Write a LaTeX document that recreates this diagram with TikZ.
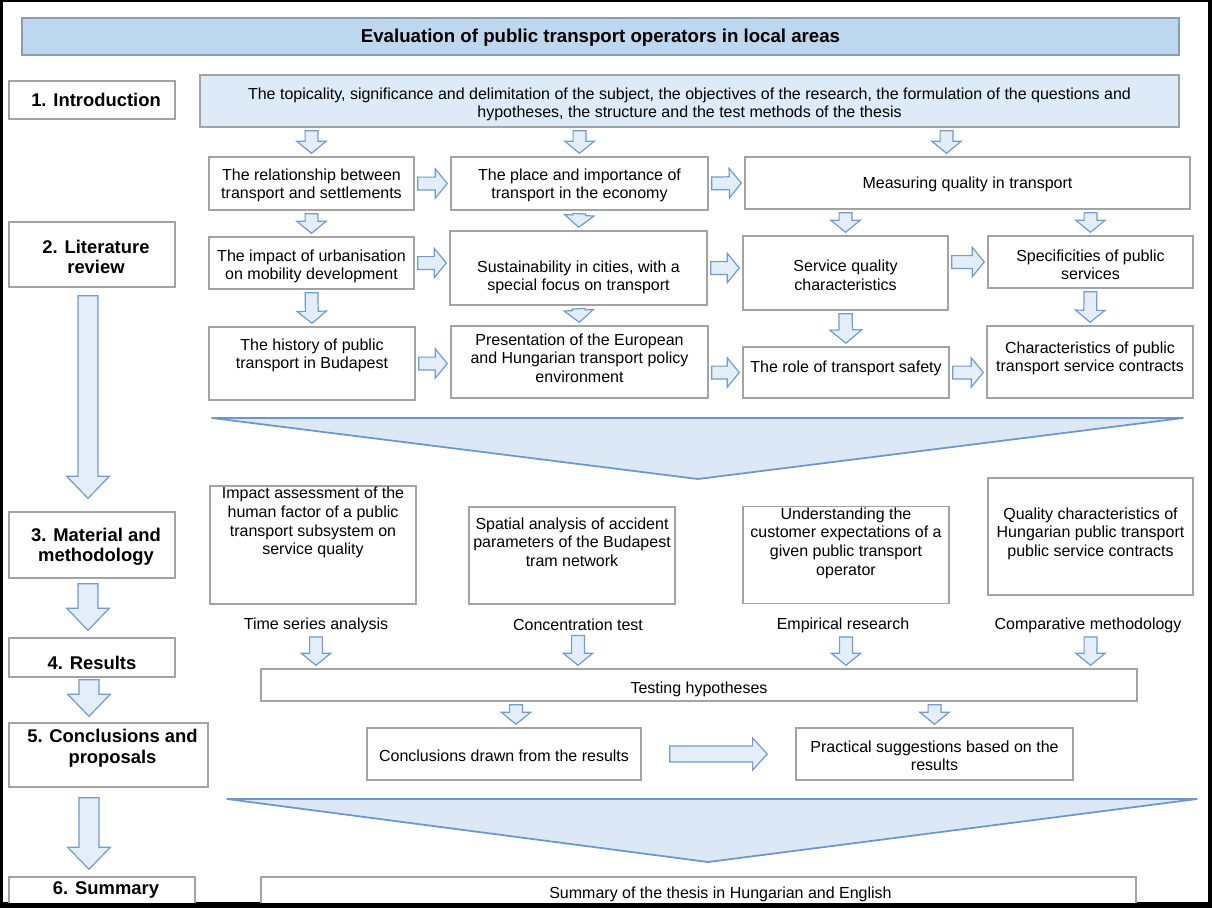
\documentclass[tikz,border=0pt]{standalone}
\usepackage{fontspec}
\setmainfont{Liberation Sans}
\usepackage{tikz}
\usetikzlibrary{positioning,calc}
\definecolor{boxgray}{HTML}{A3A3A3}
\definecolor{titleblue}{HTML}{BDD7EE}
\definecolor{titleline}{HTML}{8E9BAC}
\definecolor{introblue}{HTML}{DDEAF7}
\definecolor{arrline}{HTML}{6F9CD0}
\definecolor{arrfill}{HTML}{E4EEF9}
\definecolor{funline}{HTML}{6A97CE}
\definecolor{funfill}{HTML}{DCE8F5}
\newcommand{\btext}[1]{\begin{tabular}{@{}c@{}}#1\end{tabular}}
\newcommand{\ltext}[1]{\begin{tabular}{@{\hspace{6pt}}c@{}}#1\end{tabular}}
\tikzstyle{fbox}   = [rectangle, draw=boxgray, line width=1.2pt, fill=white,
                      inner sep=0pt, font=\fontsize{12}{13.9}\selectfont]
\tikzstyle{lbox}   = [fbox, font=\fontsize{13.8}{15.5}\selectfont\bfseries]
\tikzstyle{mtext}  = [inner sep=1pt, font=\fontsize{12}{13.9}\selectfont]
\tikzstyle{funnel} = [draw=funline, fill=funfill, line width=1.3pt, line join=round]
\tikzset{
  spanbox/.style n args={4}{at={({(#1+#3)/2},{(#2+#4)/2})},
    minimum width={(#3-#1)*0.75pt}, minimum height={(#4-#2)*0.75pt}},
  blockarr/.style n args={3}{draw=arrline, fill=arrfill, line width=0.9pt,
    to path={
      ($(\tikztostart)!2.2pt!(\tikztotarget)$) coordinate (bs)
      ($(\tikztotarget)!2.2pt!(\tikztostart)$) coordinate (bt)
      ($(bt)!#3!(bs)$) coordinate (bh)
      ($(bs)!#1!90:(bt)$) -- ($(bh)!#1!90:(bt)$) -- ($(bh)!#2!90:(bt)$) -- (bt)
      -- ($(bh)!#2!-90:(bt)$) -- ($(bh)!#1!-90:(bt)$) -- ($(bs)!#1!-90:(bt)$)
      -- cycle}},
  sarrow/.style={blockarr={4.8pt}{11pt}{9pt}},
  marrow/.style={blockarr={5pt}{12pt}{10pt}},
  harrow/.style={blockarr={6pt}{12pt}{11pt}},
  larrow/.style={blockarr={7.5pt}{16pt}{16.5pt}}
}

\begin{document}
\begin{tikzpicture}[x=0.75pt, y=-0.75pt]
\useasboundingbox (0,0) rectangle (1212,908);
\fill[black] (0,0) rectangle (1212,908);
\fill[white] (3,2) rectangle (1208,902);
\begin{scope}
\clip (3,2) rectangle (1208,902);
% Title and introduction
\node[fbox, draw=titleline, fill=titleblue, font=\fontsize{14}{16}\selectfont\bfseries,
  spanbox={22}{18}{1179}{55}] (title)
  {\btext{\rule{0pt}{14.2pt}Evaluation of public transport operators in local areas}};
\node[lbox, spanbox={9}{81}{175}{119}] (lab1) {\ltext{\rule{0pt}{13.85pt}1. Introduction}};
\node[fbox, fill=introblue, spanbox={200}{75}{1179}{127}] (intro)
  {\btext{\rule{0pt}{15.7pt}The topicality, significance and delimitation of the subject, the objectives of the research, the formulation of the questions and\\
   hypotheses, the structure and the test methods of the thesis}};
% Literature review
\node[lbox, spanbox={9}{222}{175}{287}] (lab2) {\ltext{\rule{0pt}{18.3pt}2. Literature\\review}};
\node[fbox, spanbox={209}{157}{414}{210}] (rel)
  {\btext{\rule{0pt}{13.5pt}The relationship between\\transport and settlements}};
\node[fbox, spanbox={451}{157}{708}{210}] (place)
  {\btext{\rule{0pt}{13.5pt}The place and importance of\\transport in the economy}};
\node[fbox, spanbox={745}{157}{1190}{209}] (meas) {\btext{\rule{0pt}{12.7pt}Measuring quality in transport}};
\node[fbox, spanbox={209}{237}{414}{289}] (urb)
  {\btext{\rule{0pt}{15.7pt}The impact of urbanisation\\on mobility development}};
\node[fbox, spanbox={450}{231}{707}{305}] (sust)
  {\btext{\rule{0pt}{24.5pt}Sustainability in cities, with a\\special focus on transport}};
\node[fbox, spanbox={743}{236}{948}{310}] (serv) {\btext{\rule{0pt}{16.5pt}Service quality\\characteristics}};
\node[fbox, spanbox={988}{236}{1193}{288}] (spec) {\btext{\rule{0pt}{17pt}Specificities of public\\services}};
\node[fbox, spanbox={209}{327}{415}{400}] (hist)
  {\btext{The history of public\\transport in Budapest\\[11.25pt]}};
\node[fbox, spanbox={451}{326}{708}{398}] (pres)
  {\btext{Presentation of the European\\and Hungarian transport policy\\environment\\[3pt]}};
\node[fbox, spanbox={743}{347}{949}{398}] (safety) {\btext{The role of transport safety\\[5.25pt]}};
\node[fbox, spanbox={987}{326}{1193}{398}] (char)
  {\btext{Characteristics of public\\transport service contracts\\[4.5pt]}};
\coordinate (mq) at ($(meas.north)+(-21,0)$);
\draw[sarrow] (intro.south -| rel.north) to (rel.north);
\draw[sarrow] (intro.south -| place.north) to (place.north);
\draw[sarrow] (intro.south -| mq) to (mq);
\draw[sarrow] (rel.east) to (place.west);
\draw[sarrow] (place.east) to (meas.west);
\draw[sarrow] (rel.south) to (urb.north);
\draw[sarrow] (place.south) to (sust.north);
\draw[sarrow] (meas.south -| serv.north) to (serv.north);
\draw[sarrow] (meas.south -| spec.north) to (spec.north);
\draw[sarrow] (urb.east) to (urb.east -| sust.west);
\draw[sarrow] (sust.east) to (sust.east -| serv.west);
\draw[sarrow] (spec.west -| serv.east) to (spec.west);
\draw[sarrow] (urb.south) to (hist.north);
\draw[sarrow] (sust.south) to (pres.north);
\draw[marrow] (serv.south) to (safety.north);
\draw[sarrow] (spec.south) to (char.north);
\draw[sarrow] (hist.east) to (hist.east -| pres.west);
\draw[sarrow] (safety.west -| pres.east) to (safety.west);
\draw[sarrow] (safety.east) to (safety.east -| char.west);
\draw[funnel] (212,418) -- (1183,418) -- (698,479) -- cycle;
% Material and methodology
\node[lbox, spanbox={9}{512}{175}{578}] (lab3) {\ltext{\rule{0pt}{14.6pt}3. Material and\\methodology}};
\node[fbox, spanbox={210}{486}{416}{604}] (imp)
  {\btext{Impact assessment of the\\human factor of a public\\transport subsystem on\\service quality\\[32.9pt]}};
\node[fbox, spanbox={469}{507}{675}{604}] (spat)
  {\btext{Spatial analysis of accident\\parameters of the Budapest\\tram network\\[17.25pt]}};
\node[fbox, spanbox={743}{507}{949}{603}] (und)
  {\btext{Understanding the\\customer expectations of a\\given public transport\\operator\\[17.25pt]}};
\node[fbox, spanbox={988}{478}{1193}{595}] (qual)
  {\btext{Quality characteristics of\\Hungarian public transport\\public service contracts\\[4pt]}};
\node[mtext] (tsa) at (316,625) {Time series analysis};
\node[mtext] (ctest) at (578,625) {Concentration test};
\node[mtext] (emp) at (843,625) {Empirical research};
\node[mtext] (comp) at (1088,625) {Comparative methodology};
% Results, conclusions, summary
\node[lbox, spanbox={9}{638}{175}{677}] (lab4) {\btext{\rule{0pt}{22.1pt}4. Results}};
\node[fbox, spanbox={261}{669}{1137}{701}] (testing) {\btext{\rule{0pt}{17.2pt}Testing hypotheses}};
\node[lbox, spanbox={9}{723}{208}{787}] (lab5) {\ltext{5. Conclusions and\\proposals\\[9pt]}};
\node[fbox, spanbox={367}{728}{641}{780}] (concl)
  {\btext{\rule{0pt}{15.7pt}Conclusions drawn from the results}};
\node[fbox, spanbox={796}{728}{1073}{780}] (prac)
  {\btext{\rule{0pt}{15.7pt}Practical suggestions based on the\\results}};
\node[lbox, spanbox={9}{877}{195}{912}] (lab6) {\ltext{6. Summary\\[6.75pt]}};
\node[fbox, spanbox={261}{877}{1136}{912}] (summ)
  {\btext{\hspace*{33pt}Summary of the thesis in Hungarian and English}};
\coordinate (cq) at ($(concl.north)+(12,0)$);
\draw[sarrow] (tsa.south) to (tsa.south |- testing.north);
\draw[sarrow] (ctest.south) to (ctest.south |- testing.north);
\draw[sarrow] (emp.south -| und.south) to (testing.north -| und.south);
\draw[sarrow] (comp.south -| qual.south) to (testing.north -| qual.south);
\draw[sarrow] (testing.south -| cq) to (cq);
\draw[sarrow] (testing.south -| prac.north) to (prac.north);
\draw[harrow] ($(concl.east)+(25,0)$) to ($(prac.west)+(-25,0)$);
\draw[funnel] (227,799) -- (1197,799) -- (708,862) -- cycle;
% Chapter arrows
\draw[larrow] ($(lab2.south)+(-4,5)$) to ($(lab3.north)+(-4,-10)$);
\draw[larrow] ($(lab3.south)+(-4,2)$) to ($(lab4.north)+(-4,-4)$);
\draw[larrow] ($(lab4.south)+(-3,-1)$) to ($(lab4.south |- lab5.north)+(-3,-3)$);
\draw[larrow] ($(lab4.south |- lab5.south)+(-3,7)$) to ($(lab4.south |- lab6.north)+(-3,-4)$);
\end{scope}
\end{tikzpicture}
\end{document}
